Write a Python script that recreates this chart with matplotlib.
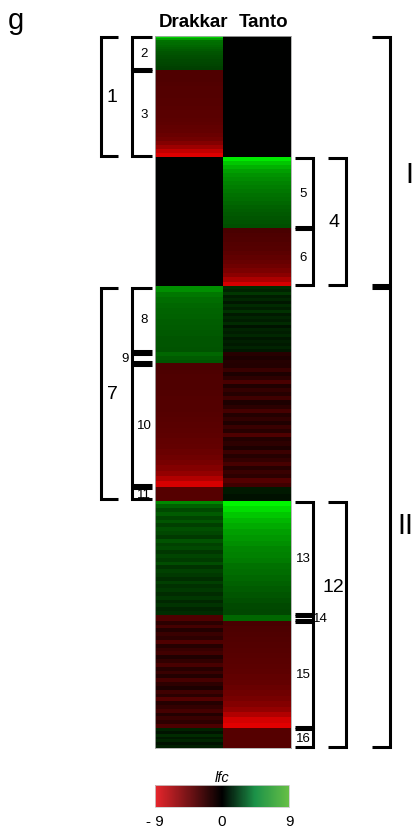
import numpy as np
import matplotlib
matplotlib.use('Agg')
import matplotlib.pyplot as plt
from matplotlib.colors import LinearSegmentedColormap, Normalize
from matplotlib.cm import ScalarMappable

plt.rcParams['font.family'] = ['Liberation Sans', 'DejaVu Sans']

# clusters from top to bottom, sizes (rows)
cluster_ids = [2, 3, 5, 6, 8, 9, 10, 11, 13, 14, 15, 16]
cluster_sizes = [34, 87, 71, 58, 66, 11, 123, 14, 114, 6, 107, 20]

# log fold change values per cluster, read top to bottom
drakkar = {
    2: [7.5, 5.5, 4.0, 3.8, 3.6, 3.4, 3.2, 3.0, 2.9, 2.8, 2.7, 2.6, 2.5, 2.4, 2.3, 2.2],
    3: [-2.8, -2.8, -2.8, -2.85, -2.9, -2.9, -2.95, -3.0, -3.0, -3.05, -3.1,
        -3.15, -3.2, -3.3, -3.4, -3.5, -3.7, -4.0, -4.6, -5.5, -6.8, -7.8],
    5: [0.0],
    6: [0.0],
    8: [5.0, 4.2, 3.8, 3.6, 3.5, 3.4, 3.3, 3.2, 3.1, 3.0, 3.0, 2.9],
    9: [3.6, 3.2, 3.0],
    10: [-2.7, -2.7, -2.75, -2.8, -2.8, -2.85, -2.9, -2.9, -2.95, -3.0, -3.05, -3.1,
         -3.2, -3.3, -3.4, -3.5, -3.7, -3.9, -4.2, -4.6, -5.2, -6.2, -7.5],
    11: [-3.0],
    13: [4.8, 3.4, 2.6, 3.2, 2.4, 3.0, 2.2, 2.8, 2.5, 2.0, 2.9, 2.3, 2.6, 1.9, 2.4,
         2.1, 2.7, 1.8, 2.3, 2.0, 1.6, 2.2, 1.7, 2.0, 1.5, 1.9, 1.4, 1.8, 1.3, 1.6],
    14: [-2.8],
    15: [-1.5, -2.4, -1.2, -2.0, -1.6, -2.8, -1.3, -1.9, -2.3, -1.1, -1.7, -2.6, -1.4, -2.0,
         -1.2, -2.5, -1.6, -1.0, -2.2, -1.5, -2.9, -1.3, -1.8, -2.4, -1.2, -2.0, -1.6, -2.7],
    16: [1.2, 0.7, 1.5, 0.9, 1.3, 0.6, 1.1],
}
tanto = {
    2: [0.0],
    3: [0.0],
    5: [8.2, 7.0, 6.2, 5.6, 5.2, 4.9, 4.6, 4.4, 4.2, 4.0, 3.8, 3.6, 3.4, 3.3, 3.1, 3.0, 2.9, 2.8],
    6: [-2.6, -2.7, -2.8, -2.9, -3.0, -3.2, -3.4, -3.6, -3.9, -4.3, -4.9, -6.0, -7.5],
    8: [1.6, 1.2, 1.9, 1.0, 1.4, 0.8, 1.5, 1.1, 1.7, 0.9, 1.3, 1.0, 1.5, 0.7, 1.2,
        1.0, 1.4, 0.8, 1.1, 0.9, 1.2, 0.8],
    9: [-1.4, -1.0, -1.3],
    10: [-1.2, -2.0, -1.0, -1.6, -2.6, -1.1, -1.8, -1.3, -2.2, -1.0, -1.5, -2.4, -1.2, -1.7,
         -1.1, -2.0, -1.4, -2.8, -1.2, -1.6, -1.0, -2.1, -1.3, -1.8, -2.5, -1.4, -2.0, -1.6,
         -2.9, -2.2],
    11: [0.9, 0.6],
    13: [8.6, 7.8, 7.0, 6.4, 6.0, 5.6, 5.3, 5.0, 4.7, 4.5, 4.3, 4.0, 3.8, 3.6, 3.4,
         3.2, 3.0, 2.8, 2.6, 2.5],
    14: [3.6],
    15: [-2.6, -2.7, -2.8, -2.85, -2.9, -3.0, -3.05, -3.1, -3.2, -3.3, -3.4, -3.5, -3.7,
         -3.9, -4.2, -4.6, -5.2, -6.2, -7.4, -7.9],
    16: [-3.0],
}
samples = ['Drakkar', 'Tanto']

# bracket groups
left_inner = [2, 3, 8, 9, 10, 11]
right_inner = [5, 6, 13, 14, 15, 16]
left_outer = {'1': [2, 3], '7': [8, 9, 10, 11]}
right_mid = {'4': [5, 6], '12': [13, 14, 15, 16]}
right_outer = {'I': [2, 3, 5, 6], 'II': [8, 9, 10, 11, 13, 14, 15, 16]}

W, H = 417, 829
fig = plt.figure(figsize=(W / 100, H / 100), dpi=100)
ax = fig.add_axes([155 / W, 1 - 749 / H, 136 / W, 712 / H])

heat_cmap = LinearSegmentedColormap.from_list('rg', ['#ff0000', '#000000', '#00ff00'])
norm = Normalize(-9, 9)

edges = np.concatenate([[0], np.cumsum(cluster_sizes)])
span = {c: (edges[i], edges[i + 1]) for i, c in enumerate(cluster_ids)}

for c in cluster_ids:
    y0, y1 = span[c]
    for j, data in enumerate([drakkar, tanto]):
        vals = np.array(data[c], dtype=float)
        yy = np.linspace(y0, y1, len(vals) + 1)
        ax.pcolormesh([j, j + 1], yy, vals[:, None], cmap=heat_cmap, norm=norm)

ax.set_xlim(0, 2)
ax.set_ylim(edges[-1], 0)
ax.set_xticks([])
ax.set_yticks([])
for s in ax.spines.values():
    s.set_color('#aaaaaa')
    s.set_linewidth(0.6)

for name, xc in zip(samples, [0.57, 1.6]):
    ax.text(xc, -6, name, ha='center', va='bottom', fontsize=13.5, fontweight='bold')


def bracket(x_tick, x_line, y0, y1, inset=1.2):
    ax.plot([x_tick, x_line, x_line, x_tick], [y0 + inset, y0 + inset, y1 - inset, y1 - inset],
            color='black', lw=2.2, clip_on=False, solid_joinstyle='miter',
            solid_capstyle='butt')


def group_span(members):
    return span[members[0]][0], span[members[-1]][1]


small_fs, big_fs = 9.5, 14

for c in left_inner:
    y0, y1 = span[c]
    bracket(-0.044, -0.338, y0, y1)
    xl = -0.44 if c == 9 else -0.16
    ax.text(xl, (y0 + y1) / 2, str(c), ha='center', va='center', fontsize=small_fs, clip_on=False)

for c in right_inner:
    y0, y1 = span[c]
    bracket(2.059, 2.324, y0, y1)
    xl = 2.43 if c == 14 else 2.18
    ax.text(xl, (y0 + y1) / 2, str(c), ha='center', va='center', fontsize=small_fs, clip_on=False)

for lab, members in left_outer.items():
    y0, y1 = group_span(members)
    bracket(-0.544, -0.794, y0, y1)
    ax.text(-0.63, (y0 + y1) / 2, lab, ha='center', va='center', fontsize=big_fs)

mid_offset = {'4': 0, '12': -38}
for lab, members in right_mid.items():
    y0, y1 = group_span(members)
    bracket(2.544, 2.809, y0, y1)
    ax.text(2.63, (y0 + y1) / 2 + mid_offset[lab], lab, ha='center', va='center', fontsize=big_fs)

outer_x = {'I': 3.68, 'II': 3.57}
outer_offset = {'I': 13, 'II': 8}
for lab, members in right_outer.items():
    y0, y1 = group_span(members)
    bracket(3.19, 3.456, y0, y1)
    ax.text(outer_x[lab], (y0 + y1) / 2 + outer_offset[lab], lab, ha='left', va='center',
            fontsize=21, clip_on=False)

fig.text(8 / W, 1 - 7 / H, 'g', ha='left', va='top', fontsize=21)

# colour key
cax = fig.add_axes([155 / W, 1 - 808 / H, 134 / W, 22 / H])
key_cmap = LinearSegmentedColormap.from_list(
    'key', [(0, '#e8262c'), (0.5, '#000000'), (0.75, '#1c9248'), (1, '#66bf46')])
cb = fig.colorbar(ScalarMappable(norm=norm, cmap=key_cmap), cax=cax, orientation='horizontal')
cb.set_ticks([-9, 0, 9])
cb.set_ticklabels(['- 9', '0', '9'])
cb.ax.tick_params(length=0, labelsize=11, pad=5)
cb.outline.set_edgecolor('#cccccc')
cb.outline.set_linewidth(0.6)
cax.set_title('lfc', fontsize=10.5, style='italic', pad=3)

fig.savefig('out.png', dpi=100)
